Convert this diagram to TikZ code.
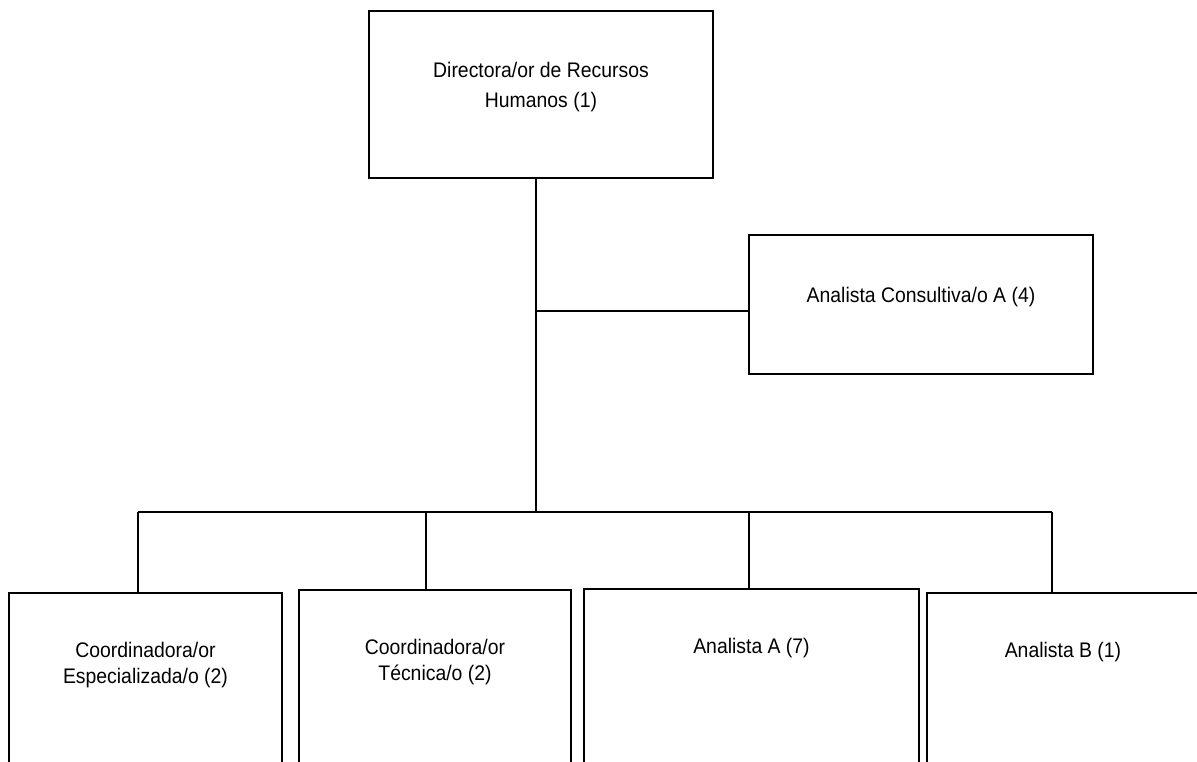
\documentclass[tikz,border=0pt]{standalone}
\usepackage{fontspec}
\setmainfont[FakeStretch=0.92]{Liberation Sans}
\newlength{\pxunit}
\setlength{\pxunit}{0.02cm}
\newcommand{\boxtext}[3]{\parbox[t][#2\pxunit][t]{#1\pxunit}{\centering\strut #3}}

\begin{document}
\begin{tikzpicture}[x=0.02cm, y=-0.02cm,
    every node/.style={font=\fontsize{12}{15}\selectfont},
    orgbox/.style={draw, line width=1.1pt, anchor=north, inner xsep=0pt, inner ysep=#1\pxunit},
    link/.style={line width=1.1pt}]

    \path[use as bounding box, clip] (0,0) rectangle (1197,761);

    % Direccion
    \node[orgbox=46, font=\fontsize{12}{17}\selectfont] (dir) at (541,10) {\boxtext{344}{75}{Directora/or de Recursos\\Humanos (1)}};

    % Staff
    \node[orgbox=49.5] (cons) at (921,234) {\boxtext{344}{40}{Analista Consultiva/o A (4)}};

    % Puestos
    \node[orgbox=46] (coesp) at (145.5,592) {\boxtext{273}{200}{Coordinadora/or\\Especializada/o (2)}};
    \node[orgbox=46] (cotec) at (435,589) {\boxtext{272}{200}{Coordinadora/or\\Técnica/o (2)}};
    \node[orgbox=46] (anaa) at (751.5,588) {\boxtext{335}{200}{Analista A (7)}};
    \node[orgbox=46] (anab) at (1063,592) {\boxtext{272}{200}{Analista B (1)}};

    % Lineas
    \coordinate (branch) at (536,311);
    \coordinate (trunk) at (536,513);
    \coordinate (d1) at (138,512);
    \coordinate (d2) at (426,512);
    \coordinate (d3) at (749,512);
    \coordinate (d4) at (1052,512);

    \draw[link] (trunk |- dir.south) -- (trunk);
    \draw[link] (branch) -- (branch -| cons.west);
    \draw[link] (d1) -- (d4);
    \foreach \d/\b in {d1/coesp, d2/cotec, d3/anaa, d4/anab} \draw[link] (\d) -- (\d |- \b.north);

\end{tikzpicture}
\end{document}
